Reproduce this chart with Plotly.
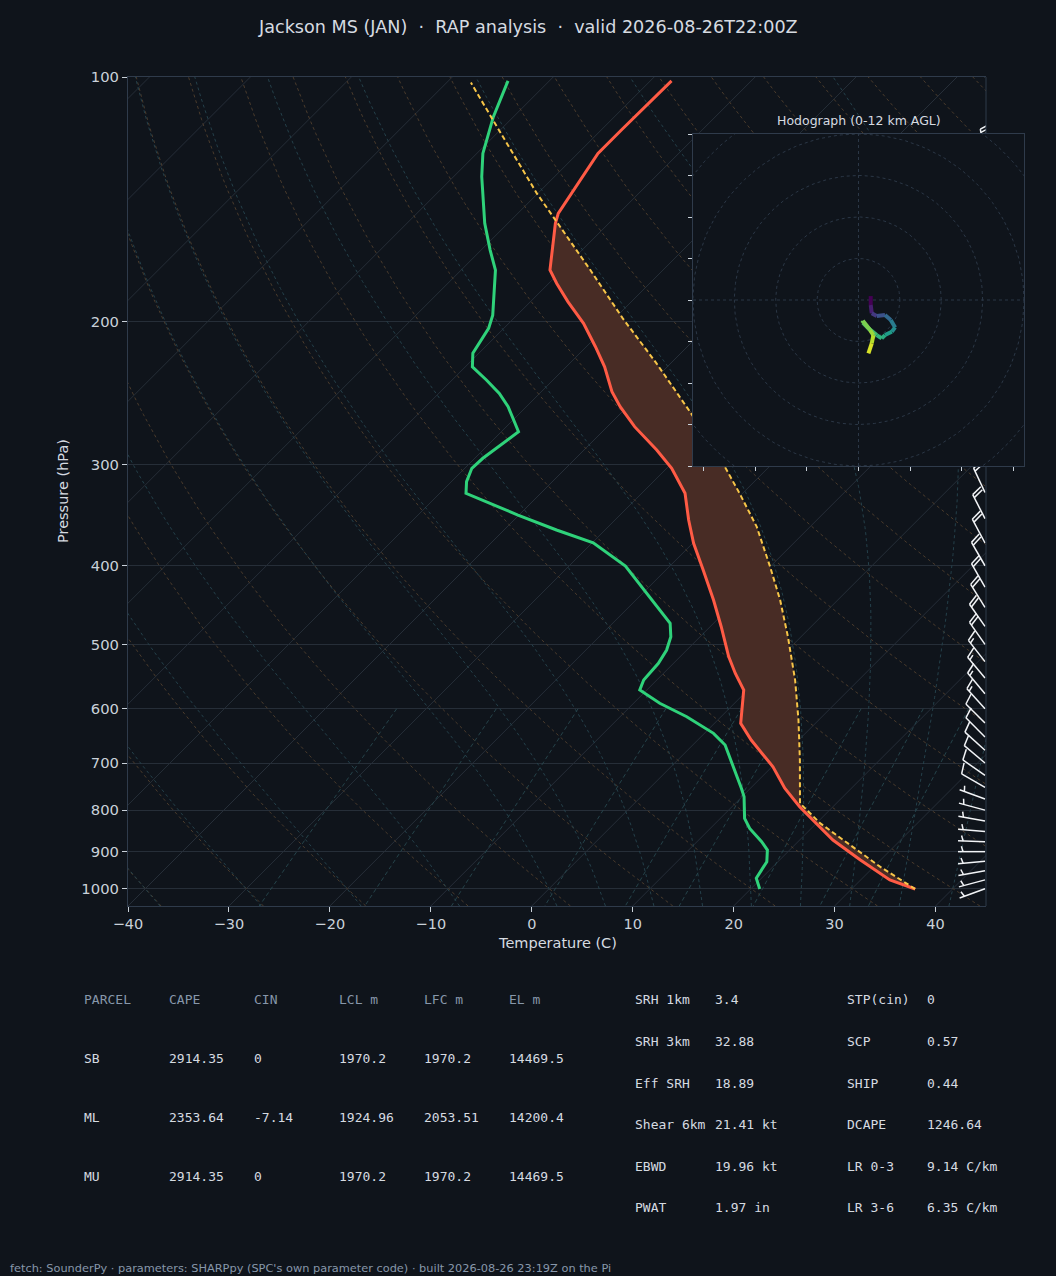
import numpy as np
import plotly.graph_objects as go
from plotly.colors import sample_colorscale

# ---------------- sounding values ----------------
temp_p = [1000.6, 975.4, 921.6, 870.8, 792.3, 751.9, 707.4, 655.8, 625.4, 596.6,
          569.0, 542.6, 517.6, 475.5, 440.9, 404.9, 375.3, 351.3, 325.7, 303.4,
          288.0, 269.6, 254.8, 244.2, 227.5, 214.9, 201.1, 189.1, 179.6, 172.9,
          160.3, 151.4, 147.2, 141.1, 132.1, 124.2, 116.3, 108.3, 101.1]
temp_c = [36.3, 32.9, 28.0, 23.3, 16.7, 13.4, 10.1, 5.3, 2.6, 1.1,
          -0.4, -2.9, -5.2, -8.9, -12.3, -16.3, -19.9, -22.7, -25.7, -29.5,
          -32.8, -37.3, -40.7, -43.0, -46.2, -49.1, -52.6, -56.3, -59.2, -61.2,
          -63.5, -65.3, -66.0, -66.5, -67.3, -68.0, -68.0, -68.0, -67.9]

dwpt_p = [1000.6, 970.7, 926.1, 895.9, 874.9, 842.5, 818.9, 770.0, 751.9, 707.4,
          665.0, 643.4, 613.8, 590.9, 569.0, 553.1, 527.5, 508.0, 489.2, 470.9,
          432.5, 400.3, 374.7, 361.4, 346.4, 325.7, 315.1, 303.4, 294.9, 284.0,
          273.5, 254.8, 245.3, 236.2, 227.5, 218.9, 204.0, 196.5, 183.0, 172.9,
          163.4, 151.4, 132.7, 124.2, 111.9, 101.1]
dwpt_c = [20.9, 19.5, 18.9, 17.8, 16.4, 13.9, 12.4, 10.2, 9.1, 6.2,
          3.2, 0.9, -3.4, -7.4, -10.7, -11.3, -11.5, -12.0, -12.9, -14.3,
          -19.6, -24.4, -29.9, -34.8, -40.1, -47.4, -48.5, -49.3, -49.2, -48.7,
          -48.3, -51.8, -54.0, -56.6, -59.3, -60.6, -61.5, -62.4, -64.7, -66.6,
          -69.1, -72.3, -77.2, -79.4, -82.0, -84.1]

parcel_p = [1000.6, 939.1, 830.6, 784.7, 694.0, 619.6, 553.1, 489.2, 440.9, 401.1,
            358.0, 325.7, 302.0, 258.4, 225.3, 198.3, 172.9, 150.8, 139.1, 113.0, 101.6]
parcel_c = [36.3, 30.6, 20.4, 16.4, 12.1, 8.0, 3.7, -1.3, -5.7, -10.0,
            -15.3, -20.3, -24.4, -33.3, -41.4, -49.2, -57.2, -65.3, -70.1, -81.7, -87.6]

# wind barbs (every 25 hPa)
barb_p = [1000, 975, 950, 925, 900, 875, 850, 825, 800, 775, 750, 725, 700,
          675, 650, 625, 600, 575, 550, 525, 500, 475, 450, 425, 400, 375,
          350, 325, 300, 275, 250, 225, 200, 175, 150, 125, 100]
barb_dir = [250, 255, 260, 265, 270, 272, 275, 280, 285, 290, 300, 305, 310,
            312, 315, 315, 318, 320, 320, 322, 325, 325, 328, 330, 330, 332,
            333, 335, 335, 340, 342, 345, 345, 348, 350, 350, 350]
barb_spd = [6, 6, 6, 6, 6, 6, 7, 7, 6, 6, 8, 10, 10,
            10, 11, 12, 14, 15, 15, 16, 18, 20, 20, 21, 21, 22,
            22, 21, 20, 18, 16, 18, 22, 24, 25, 24, 22]

# hodograph (kt) with height (km AGL)
hodo_u = [5.9, 5.9, 6.4, 8.8, 12.8, 15.6, 17.7, 16.1, 12.8, 11.2, 8.8, 4.8, 2.1, 2.1, 5.6, 7.2, 6.4, 4.8]
hodo_v = [1.9, -2.4, -6.4, -7.7, -7.2, -9.6, -13.2, -15.3, -16.9, -18.5, -16.9, -13.7, -10.9, -10.0, -14.5, -16.9, -20.9, -25.7]
hodo_z = [0.0, 1.0, 2.0, 3.0, 4.0, 5.0, 5.8, 6.6, 7.3, 7.8, 8.3, 8.8, 9.3, 9.6, 10.2, 10.7, 11.3, 12.0]

parcel_cols = ["PARCEL", "CAPE", "CIN", "LCL m", "LFC m", "EL m"]
parcel_rows = [["SB", "2914.35", "0", "1970.2", "1970.2", "14469.5"],
               ["ML", "2353.64", "-7.14", "1924.96", "2053.51", "14200.4"],
               ["MU", "2914.35", "0", "1970.2", "1970.2", "14469.5"]]
params_a = [("SRH 1km", "3.4"), ("SRH 3km", "32.88"), ("Eff SRH", "18.89"),
            ("Shear 6km", "21.41 kt"), ("EBWD", "19.96 kt"), ("PWAT", "1.97 in")]
params_b = [("STP(cin)", "0"), ("SCP", "0.57"), ("SHIP", "0.44"),
            ("DCAPE", "1246.64"), ("LR 0-3", "9.14 C/km"), ("LR 3-6", "6.35 C/km")]

SEP = " \u00a0·\u00a0 "
title = SEP.join(["Jackson MS (JAN)", "RAP analysis", "valid 2026-08-26T22:00Z"])
footer = "fetch: SounderPy · parameters: SHARPpy (SPC's own parameter code) · built 2026-08-26 23:19Z on the Pi"

# ---------------- layout geometry / style ----------------
W, H = 1056, 1276
BG = "#0f141b"
FRAME = "#2f3b4b"
TICK = "#c9d1d9"
TEXT = "#d6dbe1"
MUTED = "#8797aa"

SK = (128, 77, 986, 906)     # skew-T box in pixels: x0, y0, x1, y1
HD = (693, 134, 1024, 466)   # hodograph box
T_MIN, T_MAX = -40, 45
P_BOT, P_TOP = 1050.0, 100.0

px_per_deg = (SK[2] - SK[0]) / (T_MAX - T_MIN)
decades = np.log10(P_BOT / P_TOP)
px_per_dec = (SK[3] - SK[1]) / decades
SKEW = (SK[3] - SK[1]) / px_per_deg      # isotherms at 45 deg on screen


def frac_up(p):
    return np.log10(P_BOT / np.asarray(p, float)) / decades


def skew_x(t, p):
    return np.asarray(t, float) + SKEW * frac_up(p)


def joined(curves):
    xs, ys = [], []
    for cx, cy in curves:
        xs += list(cx) + [None]
        ys += list(cy) + [None]
    return xs, ys


def bg_line(curves, color, dash, width=1):
    xs, ys = joined(curves)
    return go.Scatter(x=xs, y=ys, mode="lines", hoverinfo="skip",
                      line=dict(color=color, width=width, dash=dash))


fig = go.Figure()

# isotherms
p_ends = np.array([P_BOT, P_TOP])
iso = [(skew_x([t, t], p_ends), p_ends) for t in np.arange(-160, 41, 10)]
fig.add_trace(bg_line(iso, "#262e38", "solid"))

# dry adiabats
p_bg = np.geomspace(P_BOT, P_TOP, 60)
dry = []
for th in np.arange(-40, 201, 10):
    t = (th + 273.15) * (p_bg / 1000.0) ** 0.2857 - 273.15
    dry.append((skew_x(t, p_bg), p_bg))
fig.add_trace(bg_line(dry, "#4a3b2c", "3px,3px"))


# moist adiabats (pseudo-adiabatic, started at 1000 hPa)
def dtdp(p, t):
    tc = t - 273.15
    es = 6.112 * np.exp(17.67 * tc / (tc + 243.5))
    rs = 0.622 * es / (p - es)
    num = 287.04 * t + 2.501e6 * rs
    den = 1005.7 + (2.501e6 ** 2 * rs * 0.622) / (287.04 * t * t)
    return num / den / p


def moist_curve(t0):
    out = {}
    for target in (P_TOP, P_BOT):
        ps = np.geomspace(1000.0, target, 120)
        t = t0 + 273.15
        vals = [t]
        for a, b in zip(ps[:-1], ps[1:]):
            h = b - a
            k1 = dtdp(a, t)
            k2 = dtdp(a + h / 2, t + h / 2 * k1)
            k3 = dtdp(a + h / 2, t + h / 2 * k2)
            k4 = dtdp(b, t + h * k3)
            t = t + h / 6 * (k1 + 2 * k2 + 2 * k3 + k4)
            vals.append(t)
        out[target] = (ps, np.array(vals) - 273.15)
    ps = np.concatenate([out[P_BOT][0][::-1], out[P_TOP][0][1:]])
    ts = np.concatenate([out[P_BOT][1][::-1], out[P_TOP][1][1:]])
    return skew_x(ts, ps), ps


moist_t0 = list(range(-40, 0, 10)) + list(range(0, 51, 5))
fig.add_trace(bg_line([moist_curve(t0) for t0 in moist_t0], "#24404a", "3px,3px"))

# mixing-ratio lines
p_mix = np.linspace(600, P_BOT, 30)
mix = []
for w in [0.4, 1, 2, 4, 7, 10, 16, 24, 32]:
    wk = w / 1000.0
    e = wk * p_mix / (0.622 + wk)
    ln = np.log(e / 6.112)
    td = 243.5 * ln / (17.67 - ln)
    mix.append((skew_x(td, p_mix), p_mix))
fig.add_trace(bg_line(mix, "#25434a", "4px,3px"))

# CAPE shading between parcel and environment
pp, pc = np.array(parcel_p), np.array(parcel_c)
tp, tc = np.array(temp_p), np.array(temp_c)
sel_p = pp >= 150
sel_t = tp >= 150
fx = list(skew_x(pc[sel_p], pp[sel_p])) + list(skew_x(tc[sel_t], tp[sel_t])[::-1])
fy = list(pp[sel_p]) + list(tp[sel_t][::-1])
fig.add_trace(go.Scatter(x=fx, y=fy, mode="lines", fill="toself", fillcolor="#482c25",
                         line=dict(width=0), hoverinfo="skip"))

# profiles
fig.add_trace(go.Scatter(x=skew_x(dwpt_c, dwpt_p), y=dwpt_p, mode="lines",
                         line=dict(color="#2fd27a", width=3), hoverinfo="skip"))
fig.add_trace(go.Scatter(x=skew_x(temp_c, temp_p), y=temp_p, mode="lines",
                         line=dict(color="#ff5b45", width=3), hoverinfo="skip"))
fig.add_trace(go.Scatter(x=skew_x(parcel_c, parcel_p), y=parcel_p, mode="lines",
                         line=dict(color="#f7c548", width=2, dash="5px,3px"), hoverinfo="skip"))


# wind barbs, matplotlib-style geometry in screen pixels
def barb_segments(xb, pb, wdir, wspd, L=27.0):
    u = -wspd * np.sin(np.radians(wdir))
    v = -wspd * np.cos(np.radians(wdir))
    ang = np.arctan2(v, u) + np.pi / 2
    spacing, height, width = 0.125 * L, 0.4 * L, 0.25 * L
    mag = 5 * np.around(wspd / 5)
    nfull = int(mag // 10)
    half = (mag - nfull * 10) >= 5
    segs = [[(0, 0), (0, L)]]
    off = L
    for _ in range(nfull):
        segs.append([(0, off), (height, off + width / 2)])
        off -= spacing
    if half:
        if off == L:
            off -= 1.5 * spacing
        segs.append([(0, off), (height / 2, off + width / 4)])
    ca, sa = np.cos(ang), np.sin(ang)
    out = []
    for seg in segs:
        xs, ys = [], []
        for sx, sy in seg:
            dx = sx * ca - sy * sa
            dy = sx * sa + sy * ca
            xs.append(xb + dx / px_per_deg)
            ys.append(pb * 10 ** (-dy / px_per_dec))
        out.append((xs, ys))
    return out


xb = T_MAX - 1.0 / px_per_deg
barbs = []
for p, d, s in zip(barb_p, barb_dir, barb_spd):
    barbs += barb_segments(xb, p, d, s)
bx, by = joined(barbs)
fig.add_trace(go.Scatter(x=bx, y=by, mode="lines", line=dict(color="#f2f4f7", width=1.5),
                         hoverinfo="skip"))


# cover the skew-T under the hodograph inset
def x_at_px(px):
    return T_MIN + (px - SK[0]) / px_per_deg


def p_at_py(py):
    return P_BOT * 10 ** (-(SK[3] - py) / px_per_dec)


cx0, cx1 = x_at_px(HD[0]), T_MAX + 2
cp_top, cp_bot = p_at_py(HD[1]), p_at_py(HD[3])
fig.add_trace(go.Scatter(x=[cx0, cx1, cx1, cx0, cx0], y=[cp_bot, cp_bot, cp_top, cp_top, cp_bot],
                         mode="lines", fill="toself", fillcolor=BG, line=dict(width=0),
                         hoverinfo="skip"))

# ---------------- hodograph ----------------
ang = np.linspace(0, 2 * np.pi, 241)
rings = [(r * np.cos(ang), r * np.sin(ang)) for r in (20, 40, 60, 80, 100)]
rings += [([-80, 80], [0, 0]), ([0, 0], [-80, 80])]
rx, ry = joined(rings)
fig.add_trace(go.Scatter(x=rx, y=ry, xaxis="x2", yaxis="y2", mode="lines",
                         line=dict(color="#2b3746", width=1, dash="3px,3px"), hoverinfo="skip"))
cols = sample_colorscale("Viridis", [z / max(hodo_z) for z in hodo_z])
for i in range(len(hodo_u) - 1):
    fig.add_trace(go.Scatter(x=hodo_u[i:i + 2], y=hodo_v[i:i + 2], xaxis="x2", yaxis="y2",
                             mode="lines", line=dict(color=cols[i], width=4), hoverinfo="skip"))


# ---------------- layout ----------------
def xdom(x0, x1):
    return [x0 / W, x1 / W]


def ydom(y0, y1):
    return [1 - y1 / H, 1 - y0 / H]


def px(x):
    return x / W


def py(y):
    return 1 - y / H


fig.update_layout(
    width=W, height=H, autosize=False,
    margin=dict(l=0, r=0, t=0, b=0, pad=0, autoexpand=False),
    paper_bgcolor=BG, plot_bgcolor=BG,
    showlegend=False,
    font=dict(family="DejaVu Sans", color=TICK),
    xaxis=dict(domain=xdom(SK[0], SK[2]), range=[T_MIN, T_MAX], anchor="y", automargin=False,
               tickvals=list(range(-40, 41, 10)), ticks="outside", ticklen=5,
               tickcolor=TICK, tickfont=dict(size=14.5, color=TICK),
               showgrid=False, zeroline=False, showline=True, mirror=True,
               linecolor=FRAME, linewidth=1),
    yaxis=dict(domain=ydom(SK[1], SK[3]), type="log", anchor="x", automargin=False,
               range=[np.log10(P_BOT), np.log10(P_TOP)],
               tickvals=list(range(100, 1001, 100)), ticktext=[str(v) for v in range(100, 1001, 100)],
               ticks="outside", ticklen=5, tickcolor=TICK, tickfont=dict(size=14.8, color=TICK),
               showgrid=True, gridcolor="#262e38", gridwidth=1, zeroline=False,
               showline=True, linecolor=FRAME, linewidth=1),
    xaxis2=dict(domain=xdom(HD[0], HD[2]), range=[-80, 80], anchor="y2", automargin=False,
                tickvals=[-75, -50, -25, 0, 25, 50, 75], showticklabels=False,
                ticks="outside", ticklen=4, tickcolor=TICK,
                showgrid=False, zeroline=False, showline=True, mirror=True,
                linecolor=FRAME, linewidth=1),
    yaxis2=dict(domain=ydom(HD[1], HD[3]), range=[-80, 80], anchor="x2", automargin=False,
                tickvals=list(range(-80, 81, 20)), showticklabels=False,
                ticks="outside", ticklen=4, tickcolor=TICK,
                showgrid=False, zeroline=False, showline=True, mirror=True,
                linecolor=FRAME, linewidth=1),
)

# right edge of the skew-T frame, broken where the inset sits
fig.add_shape(type="line", xref="paper", yref="paper", x0=px(SK[2]), x1=px(SK[2]),
              y0=py(SK[1]), y1=py(HD[1]), line=dict(color=FRAME, width=1), layer="above")
fig.add_shape(type="line", xref="paper", yref="paper", x0=px(SK[2]), x1=px(SK[2]),
              y0=py(HD[3]), y1=py(SK[3]), line=dict(color=FRAME, width=1), layer="above")


def note(text, x, y, size, color, family="DejaVu Sans", anchor="left", angle=0):
    fig.add_annotation(text=text, x=px(x), y=py(y), xref="paper", yref="paper",
                       xanchor=anchor, yanchor="middle", showarrow=False, textangle=angle,
                       font=dict(size=size, color=color, family=family))


note(title, 528, 27, 17.6, TEXT, anchor="center")
note("Hodograph (0-12 km AGL)", (HD[0] + HD[2]) / 2, 120, 12.5, TEXT, anchor="center")
note("Pressure (hPa)", 63, 491, 14.5, TEXT, anchor="center", angle=-90)
note("Temperature (C)", (SK[0] + SK[2]) / 2, 943, 14.5, TEXT, anchor="center")

MONO = "DejaVu Sans Mono"
col_x = [82, 167, 252, 337, 422, 507]
for cx, name in zip(col_x, parcel_cols):
    note(name, cx, 999, 13, MUTED, MONO)
for ry_, row in zip([1058, 1117, 1176], parcel_rows):
    for cx, val in zip(col_x, row):
        note(val, cx, ry_, 13, TEXT, MONO)

row_y = [999, 1041, 1083, 1124, 1166, 1207]
for ry_, (k, v) in zip(row_y, params_a):
    note(k, 633, ry_, 13, TEXT, MONO)
    note(v, 713, ry_, 13, TEXT, MONO)
for ry_, (k, v) in zip(row_y, params_b):
    note(k, 845, ry_, 13, TEXT, MONO)
    note(v, 925, ry_, 13, TEXT, MONO)

note(footer, 8, 1268, 11.35, MUTED)

# page without the default body margin so the figure fills the window exactly
page_css = ("document.documentElement.style.margin='0';"
            "document.body.style.margin='0';"
            "document.body.style.overflow='hidden';"
            "document.documentElement.style.overflow='hidden';"
            "document.body.style.background='" + BG + "';")
fig.write_html("out.html", post_script=page_css, config={"displayModeBar": False})
